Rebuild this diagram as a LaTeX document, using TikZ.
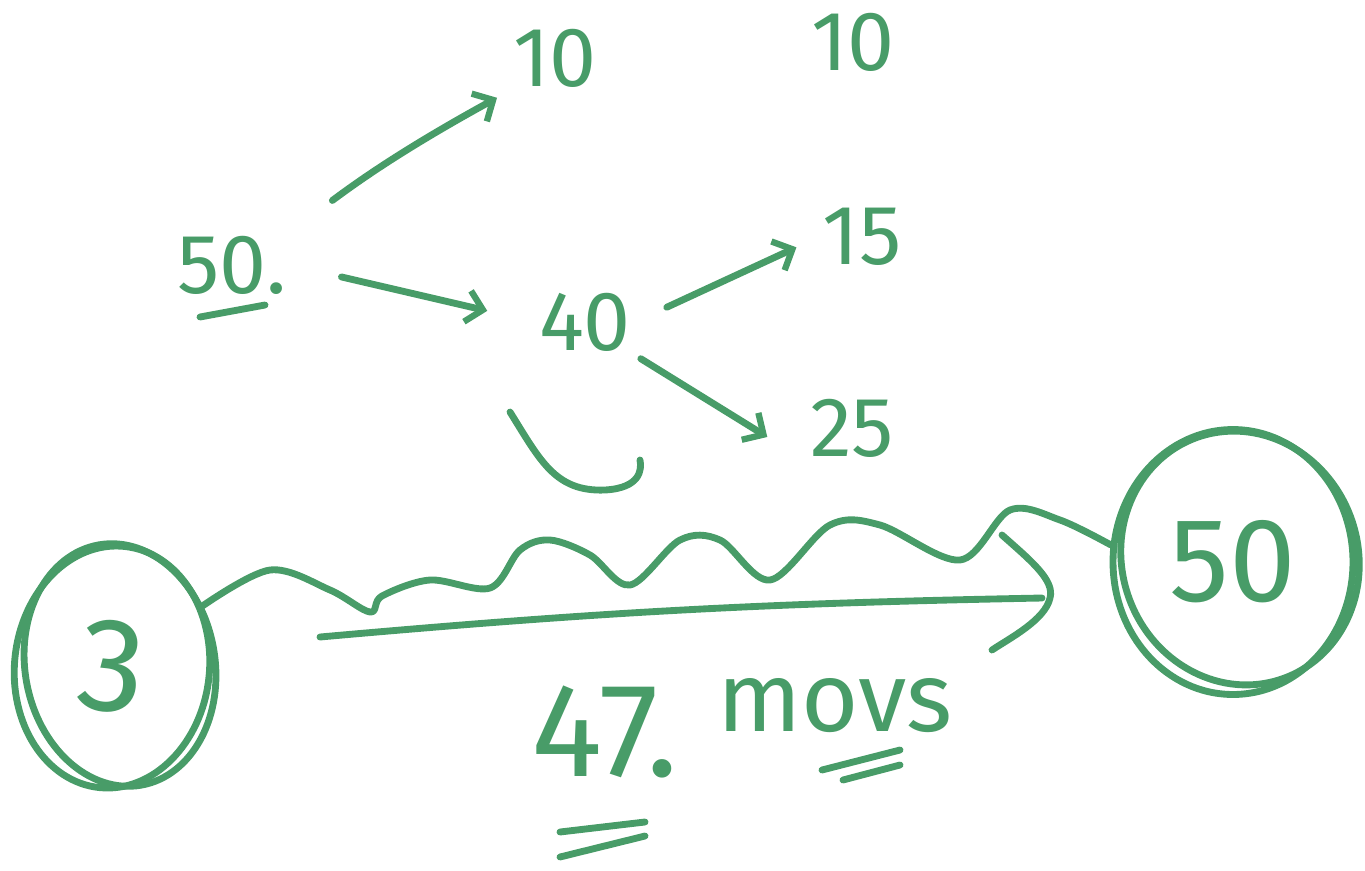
\documentclass[tikz,border=0pt]{standalone}
\usepackage{fontspec}
\setmainfont{Fira Sans}
\usetikzlibrary{arrows.meta,positioning,shapes.geometric}
\definecolor{inkgreen}{RGB}{72,156,104}
\tikzset{
  pen/.style={draw=inkgreen,line width=3.9pt,line cap=round,line join=round},
  num/.style={text=inkgreen,inner sep=2pt,font=\fontsize{48}{54}\selectfont},
  bignum/.style={text=inkgreen,inner sep=2pt,font=\fontsize{76}{84}\selectfont},
  arr/.style={pen,-{Straight Barb[length=9pt,width=18pt,line width=3.6pt]}},
  coin/.style={pen,ellipse,inner sep=0pt},
}
\begin{document}
\begin{tikzpicture}[x=0.02cm,y=-0.02cm]
  \useasboundingbox (0,0) rectangle (1365,870);

  % number tree
  \node[num] (n50) at (232,265) {50.};
  \node[num] (n10a) at (555,58) {10};
  \node[num] (n10b) at (853,42) {10};
  \node[num] (n40) at (585,322) {40};
  \node[num] (n15) at (862,237) {15};
  \node[num] (n25) at (852,428) {25};
  \draw[pen] (200,317) -- (265,305);

  \draw[arr,shorten <=30pt,shorten >=8pt] (n50.north east) to[bend left=4] (n10a.south west);
  \draw[arr,shorten <=30pt,shorten >=28pt] (n50.east) -- (n40.west);
  \draw[arr,shorten <=20pt,shorten >=14pt] (n40.east) -- (n15.west);
  \draw[arr,shorten <=4pt,shorten >=26pt] (n40.south east) -- (n25.south west);

  % smile under 40
  \draw[pen] (510,412) .. controls (540,460) and (555,492) .. (605,490)
             .. controls (640,488) and (642,470) .. (640,460);

  % the two circles
  \node[coin,minimum width=3.9cm,minimum height=4.85cm,rotate=-6,
        font=\fontsize{76}{84}\selectfont,text=inkgreen] (c3) at (112,667) {3};
  \draw[pen] (120,665) ellipse[x radius=95,y radius=122,rotate=10];
  \node[coin,minimum width=4.8cm,minimum height=5.3cm,
        font=\fontsize{68}{76}\selectfont,text=inkgreen] (c50) at (1233,562) {50};
  \draw[pen] (1240,558) ellipse[x radius=118,y radius=128,rotate=20];

  % wavy path between them
  \draw[pen] plot[smooth,tension=0.55] coordinates {(c3.40) (270,570) (330,590)
    (370,612) (382,596) (430,580) (490,588) (520,550) (550,540) (590,555)
    (630,585) (680,540) (720,540) (770,580) (830,525) (880,525) (960,560)
    (1010,510) (1060,520) (c50.172)};

  % straight path with hook
  \coordinate (s0) at (320,637);
  \coordinate (hk) at (1042,598);
  \draw[pen] (s0) to[bend left=2] (hk);
  \draw[pen] (1002,535) .. controls (1030,560) and (1055,580) .. (1050,598)
             .. controls (1045,620) and (1010,638) .. (992,650);

  % result
  \node[bignum] (n47) at (605,732) {47.};
  \node[num,font=\fontsize{56}{62}\selectfont] (nmovs) at (835,706) {movs};
  \draw[pen] (560,832) -- (645,822);
  \draw[pen] (560,857) -- (645,836);
  \draw[pen] (822,770) -- (900,750);
  \draw[pen] (843,780) -- (900,765);
\end{tikzpicture}
\end{document}
